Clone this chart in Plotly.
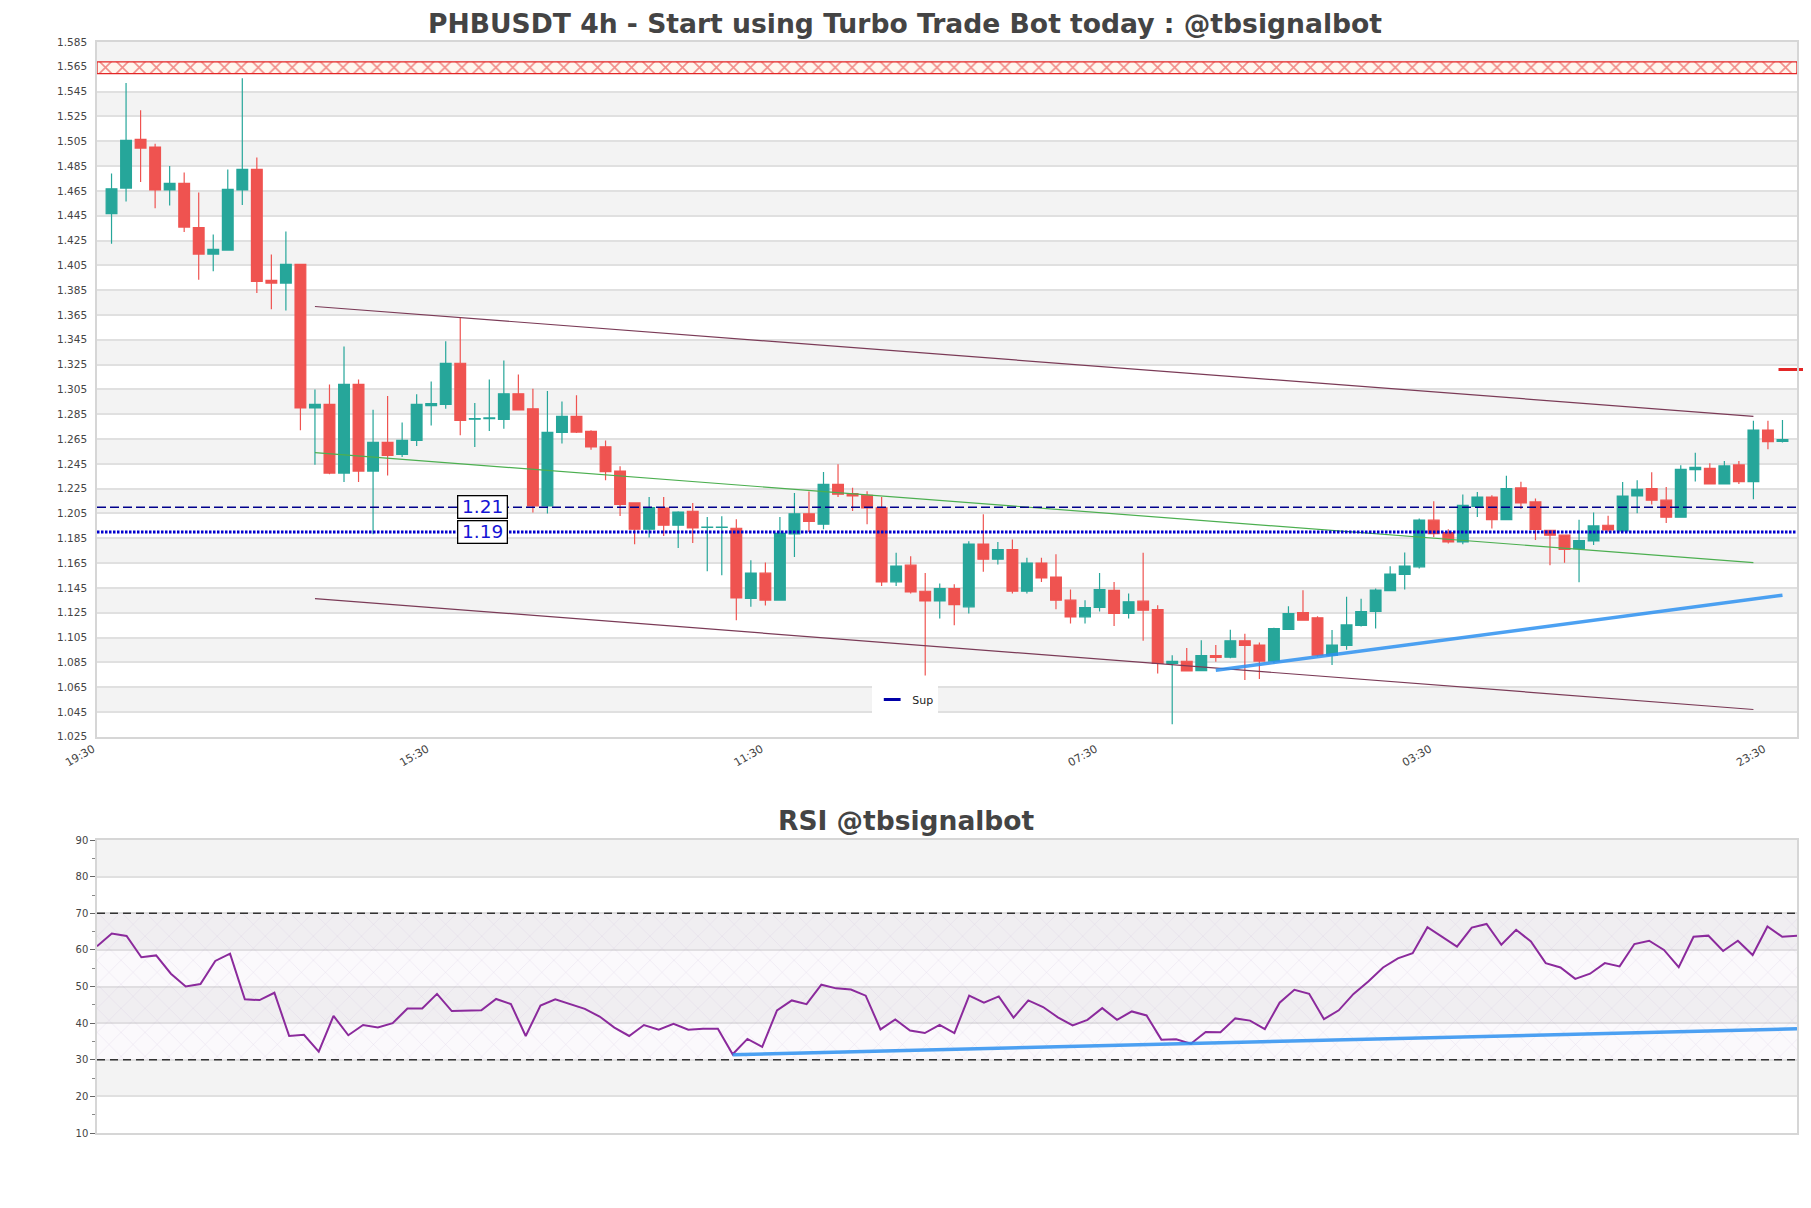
import pandas as pd
import plotly.graph_objects as go

# ---------------- data ----------------
START = pd.Timestamp("2024-05-06 19:30")
STEP = pd.Timedelta(hours=4)

opens = [1.4466, 1.4673, 1.5065, 1.5003, 1.4657, 1.4710, 1.4355, 1.4141, 1.4173, 1.4657,
         1.4823, 1.3928, 1.3907, 1.4057, 1.2900, 1.2930, 1.2376, 1.3090, 1.2392, 1.2623,
         1.2527, 1.2639, 1.2920, 1.2930, 1.3261, 1.2810, 1.2815, 1.2808, 1.3015, 1.2894,
         1.2111, 1.2704, 1.2833, 1.2712, 1.2588, 1.2392, 1.2135, 1.1923, 1.2094, 1.1955,
         1.2068, 1.1937, 1.1937, 1.1931, 1.1365, 1.1569, 1.1352, 1.1886, 1.2048, 1.1963,
         1.2285, 1.2210, 1.2197, 1.2095, 1.1499, 1.1633, 1.1423, 1.1345, 1.1445, 1.1298,
         1.1803, 1.1682, 1.1759, 1.1423, 1.1651, 1.1538, 1.1351, 1.1217, 1.1292, 1.1431,
         1.1244, 1.1343, 1.1276, 1.0841, 1.0859, 1.0784, 1.0905, 1.0892, 1.1024, 1.0989,
         1.0860, 1.1115, 1.1252, 1.1209, 1.0908, 1.0986, 1.1147, 1.1260, 1.1429, 1.1558,
         1.1620, 1.1996, 1.1896, 1.1821, 1.2108, 1.2183, 1.2001, 1.2256, 1.2143, 1.1915,
         1.1875, 1.1766, 1.1829, 1.1955, 1.1910, 1.2191, 1.2251, 1.2157, 1.2020, 1.2404,
         1.2414, 1.2288, 1.2441, 1.2307, 1.2723, 1.2631]
highs = [1.4791, 1.5519, 1.5299, 1.5030, 1.4850, 1.4799, 1.4638, 1.4299, 1.4823, 1.5557,
         1.4920, 1.4138, 1.4323, 1.4057, 1.3050, 1.3090, 1.3396, 1.3130, 1.2886, 1.2996,
         1.2784, 1.3010, 1.3114, 1.3439, 1.3632, 1.2940, 1.3130, 1.3283, 1.3170, 1.3055,
         1.3037, 1.2953, 1.3002, 1.2720, 1.2639, 1.2430, 1.2135, 1.2183, 1.2183, 1.2068,
         1.2135, 1.2022, 1.2027, 1.2003, 1.1673, 1.1654, 1.2022, 1.2216, 1.2227, 1.2384,
         1.2446, 1.2258, 1.2229, 1.2183, 1.1733, 1.1706, 1.1571, 1.1485, 1.1480, 1.1827,
         1.2044, 1.1821, 1.1840, 1.1694, 1.1694, 1.1721, 1.1437, 1.1351, 1.1571, 1.1498,
         1.1405, 1.1733, 1.1311, 1.0907, 1.0966, 1.1029, 1.0989, 1.1112, 1.1080, 1.1010,
         1.1128, 1.1303, 1.1432, 1.1222, 1.1110, 1.1378, 1.1362, 1.1445, 1.1625, 1.1735,
         1.2009, 1.2149, 1.1923, 1.2202, 1.2224, 1.2197, 1.2355, 1.2305, 1.2170, 1.1915,
         1.1875, 1.1999, 1.2057, 1.2031, 1.2304, 1.2318, 1.2383, 1.2264, 1.2438, 1.2540,
         1.2454, 1.2473, 1.2473, 1.2798, 1.2798, 1.2803]
lows = [1.4224, 1.4565, 1.4721, 1.4511, 1.4533, 1.4318, 1.3933, 1.4003, 1.4173, 1.4536,
        1.3826, 1.3697, 1.3686, 1.2720, 1.2443, 1.2366, 1.2304, 1.2304, 1.1882, 1.2357,
        1.2505, 1.2594, 1.2760, 1.2894, 1.2680, 1.2586, 1.2715, 1.2733, 1.2880, 1.2057,
        1.2049, 1.2613, 1.2698, 1.2564, 1.2317, 1.2030, 1.1802, 1.1856, 1.1869, 1.1772,
        1.1813, 1.1585, 1.1553, 1.1190, 1.1298, 1.1308, 1.1347, 1.1700, 1.1901, 1.1923,
        1.2183, 1.2070, 1.1963, 1.1466, 1.1466, 1.1405, 1.0745, 1.1203, 1.1150, 1.1244,
        1.1581, 1.1638, 1.1405, 1.1405, 1.1498, 1.1279, 1.1163, 1.1163, 1.1260, 1.1144,
        1.1203, 1.1024, 1.0761, 1.0351, 1.0781, 1.0780, 1.0854, 1.0884, 1.0708, 1.0716,
        1.0843, 1.1112, 1.1185, 1.0895, 1.0828, 1.0951, 1.1139, 1.1123, 1.1429, 1.1437,
        1.1607, 1.1861, 1.1808, 1.1802, 1.2022, 1.1929, 1.2001, 1.2087, 1.1836, 1.1633,
        1.1652, 1.1495, 1.1796, 1.1902, 1.1910, 1.2052, 1.2123, 1.1974, 1.2015, 1.2307,
        1.2285, 1.2283, 1.2288, 1.2165, 1.2567, 1.2623]
closes = [1.4667, 1.5057, 1.4995, 1.4657, 1.4710, 1.4358, 1.4141, 1.4178, 1.4662, 1.4823,
          1.3920, 1.3907, 1.4057, 1.2900, 1.2930, 1.2376, 1.3090, 1.2392, 1.2623, 1.2519,
          1.2639, 1.2929, 1.2935, 1.3261, 1.2800, 1.2815, 1.2820, 1.3015, 1.2884, 1.2111,
          1.2704, 1.2833, 1.2706, 1.2586, 1.2387, 1.2124, 1.1923, 1.2097, 1.1955, 1.2062,
          1.1933, 1.1941, 1.1941, 1.1370, 1.1569, 1.1352, 1.1889, 1.2048, 1.1986, 1.2285,
          1.2205, 1.2191, 1.2095, 1.1499, 1.1625, 1.1418, 1.1345, 1.1445, 1.1316, 1.1803,
          1.1682, 1.1759, 1.1423, 1.1651, 1.1530, 1.1351, 1.1217, 1.1292, 1.1437, 1.1244,
          1.1338, 1.1271, 1.0841, 1.0859, 1.0781, 1.0904, 1.0890, 1.1024, 1.0986, 1.0860,
          1.1123, 1.1244, 1.1190, 1.0908, 1.0989, 1.1152, 1.1260, 1.1432, 1.1561, 1.1625,
          1.1996, 1.1888, 1.1821, 1.2116, 1.2183, 1.2001, 1.2251, 1.2135, 1.1921, 1.1875,
          1.1760, 1.1832, 1.1950, 1.1918, 1.2191, 1.2245, 1.2157, 1.2020, 1.2406, 1.2422,
          1.2288, 1.2433, 1.2307, 1.2723, 1.2629, 1.2645]
rsi_values = [61.0, 64.5, 63.8, 58.0, 58.5, 53.5, 50.0, 50.7, 57.0, 59.0,
              46.5, 46.3, 48.3, 36.5, 36.8, 32.2, 42.0, 36.7, 39.5, 38.8,
              40.0, 44.0, 44.0, 48.0, 43.3, 43.5, 43.5, 46.6, 45.2, 36.5,
              44.8, 46.5, 45.2, 43.9, 41.8, 38.8, 36.5, 39.5, 38.2, 39.8,
              38.2, 38.5, 38.5, 31.5, 35.7, 33.5, 43.5, 46.2, 45.2, 50.5,
              49.5, 49.2, 47.5, 38.3, 41.0, 38.0, 37.3, 39.5, 37.3, 47.5,
              45.6, 47.3, 41.5, 46.2, 44.4, 41.6, 39.4, 40.9, 44.1, 40.9,
              43.2, 42.1, 35.5, 35.6, 34.4, 37.6, 37.5, 41.3, 40.7, 38.4,
              45.6, 49.1, 48.0, 41.1, 43.5, 48.0, 51.4, 55.2, 57.7, 59.1,
              66.2, 63.5, 60.9, 66.1, 67.1, 61.4, 65.5, 62.3, 56.4, 55.2,
              52.1, 53.5, 56.4, 55.5, 61.6, 62.5, 60.0, 55.3, 63.6, 63.9,
              59.7, 62.5, 58.6, 66.4, 63.6, 63.9]

price_ticks = [round(1.025 + 0.02 * i, 3) for i in range(29)]
rsi_ticks = [10, 20, 30, 40, 50, 60, 70, 80, 90]
tick_steps = [0, 23, 46, 69, 92, 115]

resistance_zone = [1.5595, 1.5690]
level_dashed = 1.21
level_dotted = 1.19
label_step = 26.5
channel_steps = [15, 114]
channel_upper = [1.3718, 1.2833]
channel_mid = [1.2540, 1.1654]
channel_lower = [1.1364, 1.0470]
support_steps = [77, 116]
support_vals = [1.0787, 1.1391]
rsi_trend_idx = [43, 115]
rsi_trend_vals = [31.4, 38.45]
rsi_zone = [30, 70]
target_price = 1.321
target_step = 116.98

# ---------------- derived ----------------
n = len(opens)
times = [START + STEP * (i + 1) for i in range(n)]
x0, x1 = START, START + STEP * (n + 1)
tick_times = [START + STEP * s for s in tick_steps]
def t(s):
    return START + STEP * s

GREEN = "#26a69a"
RED = "#ef5350"
FONT = "DejaVu Sans"

fig = go.Figure()

# resistance zone (hatched)
fig.add_trace(go.Scatter(
    x=[x0, x1, x1, x0, x0],
    y=[resistance_zone[0], resistance_zone[0], resistance_zone[1], resistance_zone[1], resistance_zone[0]],
    mode="lines", fill="toself", line=dict(color="#e32626", width=1.3),
    fillcolor="#fff6ee",
    fillpattern=dict(shape="x", fgcolor="#e32626", bgcolor="#fff6ee", size=12, solidity=0.25),
    showlegend=False, hoverinfo="skip", xaxis="x", yaxis="y"))

# channel lines
for vals, col in [(channel_upper, "#7b3b57"), (channel_lower, "#7b3b57"), (channel_mid, "#4caf50")]:
    fig.add_trace(go.Scatter(x=[t(s) for s in channel_steps], y=vals, mode="lines",
                             line=dict(color=col, width=1.2), showlegend=False,
                             hoverinfo="skip", xaxis="x", yaxis="y"))

# horizontal levels
fig.add_trace(go.Scatter(x=[x0, x1], y=[level_dashed, level_dashed], mode="lines",
                         line=dict(color="#00008b", width=1.5, dash="9px,4px"),
                         showlegend=False, hoverinfo="skip", xaxis="x", yaxis="y"))
fig.add_trace(go.Scatter(x=[x0, x1], y=[level_dotted, level_dotted], mode="lines",
                         line=dict(color="#0000cd", width=3, dash="2.5px,1.5px"),
                         showlegend=False, hoverinfo="skip", xaxis="x", yaxis="y"))

# candles
fig.add_trace(go.Candlestick(
    x=times, open=opens, high=highs, low=lows, close=closes,
    increasing=dict(line=dict(color=GREEN, width=1.2), fillcolor=GREEN),
    decreasing=dict(line=dict(color=RED, width=1.2), fillcolor=RED),
    whiskerwidth=0, showlegend=False, xaxis="x", yaxis="y"))

# support trendline
fig.add_trace(go.Scatter(x=[t(s) for s in support_steps], y=support_vals, mode="lines",
                         line=dict(color="rgba(45,145,240,0.85)", width=3.5),
                         showlegend=False, hoverinfo="skip", xaxis="x", yaxis="y"))

# target marker
fig.add_trace(go.Scatter(x=[t(target_step)], y=[target_price], mode="markers",
                         marker=dict(symbol="line-ew", size=26, color="#e32626",
                                     line=dict(color="#e32626", width=3)),
                         cliponaxis=False, showlegend=False, hoverinfo="skip",
                         xaxis="x", yaxis="y"))

# legend entry
fig.add_trace(go.Scatter(x=[None], y=[None], mode="markers", name="Sup",
                         marker=dict(symbol="line-ew", size=12, color="#0000a8",
                                     line=dict(color="#0000a8", width=3)),
                         showlegend=True, xaxis="x", yaxis="y"))

# ---------------- RSI ----------------
rx0, rx1 = times[0], times[-1]
fig.add_trace(go.Scatter(
    x=[rx0, rx1, rx1, rx0, rx0],
    y=[rsi_zone[0], rsi_zone[0], rsi_zone[1], rsi_zone[1], rsi_zone[0]],
    mode="lines", fill="toself", line=dict(width=0),
    fillcolor="rgba(225,205,235,0.12)",
    fillpattern=dict(shape="x", fgcolor="rgba(165,140,190,0.55)", size=17, solidity=0.05,
                     fillmode="overlay"),
    showlegend=False, hoverinfo="skip", xaxis="x2", yaxis="y2"))
for lvl in rsi_zone:
    fig.add_trace(go.Scatter(x=[rx0, rx1], y=[lvl, lvl], mode="lines",
                             line=dict(color="#333333", width=1.4, dash="8px,5px"),
                             showlegend=False, hoverinfo="skip", xaxis="x2", yaxis="y2"))
fig.add_trace(go.Scatter(x=times, y=rsi_values, mode="lines",
                         line=dict(color="#8b2a9c", width=2),
                         showlegend=False, hoverinfo="skip", xaxis="x2", yaxis="y2"))
fig.add_trace(go.Scatter(x=[times[i] for i in rsi_trend_idx], y=rsi_trend_vals, mode="lines",
                         line=dict(color="rgba(45,145,240,0.85)", width=3.5),
                         showlegend=False, hoverinfo="skip", xaxis="x2", yaxis="y2"))

# ---------------- bands ----------------
shapes = []
for i in range(1, len(price_ticks) - 1, 2):
    shapes.append(dict(type="rect", xref="x domain", yref="y", x0=0, x1=1,
                       y0=price_ticks[i], y1=price_ticks[i + 1],
                       fillcolor="#f3f3f3", line=dict(width=0), layer="below"))
for i in range(1, len(rsi_ticks) - 1, 2):
    shapes.append(dict(type="rect", xref="x2 domain", yref="y2", x0=0, x1=1,
                       y0=rsi_ticks[i], y1=rsi_ticks[i + 1],
                       fillcolor="#f3f3f3", line=dict(width=0), layer="below"))

# page body has an 8px margin: figure is sized/offset so the plot lands where the reference has it
W, H = 1803, 1200
PLOT_L, PLOT_R, PLOT_T, PLOT_B = 89, 14, 33.7, 75
plot_h = H - PLOT_T - PLOT_B

annotations = []
for lvl in [level_dashed, level_dotted]:
    annotations.append(dict(x=t(label_step), y=lvl, xref="x", yref="y",
                            text="\u2009" + f"{lvl:.2f}" + "\u2009",
                            showarrow=False, font=dict(family=FONT, size=18.5, color="#1515d5"),
                            bgcolor="white", bordercolor="black", borderwidth=1.3, borderpad=0))
annotations.append(dict(x=0.476, y=(plot_h - (812 - PLOT_T)) / plot_h, xref="paper", yref="paper",
                        text="<b>RSI @tbsignalbot</b>",
                        showarrow=False, xanchor="center", yanchor="middle",
                        font=dict(family=FONT, size=26.5, color="#444444")))

axis_line = "#d6d6d6"
fig.update_layout(
    width=W, height=H,
    margin=dict(l=PLOT_L, r=PLOT_R, t=PLOT_T, b=PLOT_B),
    paper_bgcolor="white", plot_bgcolor="white",
    font=dict(family=FONT, color="#444444"),
    title=dict(text="<b>PHBUSDT 4h - Start using Turbo Trade Bot today : @tbsignalbot</b>",
               x=(905 - 8) / W, xref="container", xanchor="center",
               y=1 - 16 / H, yref="container", yanchor="middle",
               font=dict(family=FONT, size=26.6, color="#444444")),
    boxgap=0.26, boxgroupgap=0,
    shapes=shapes, annotations=annotations,
    showlegend=True,
    legend=dict(x=0.456, y=(plot_h - (677 - PLOT_T)) / plot_h, xanchor="left", yanchor="top",
                bgcolor="white",
                font=dict(family=FONT, size=11, color="#222222"), itemwidth=30,
                borderwidth=0),
    xaxis=dict(type="date", range=[x0, x1], anchor="y", domain=[0, 1],
               tickvals=tick_times, tickformat="%H:%M", tickangle=-30,
               tickfont=dict(size=11, color="#444444"), showgrid=False,
               ticklabelshift=-4,
               showline=True, linecolor=axis_line, linewidth=1.5, mirror=True,
               rangeslider=dict(visible=False), zeroline=False),
    yaxis=dict(domain=[(plot_h - (728.7 - PLOT_T)) / plot_h, 1.0],
               range=[price_ticks[0], price_ticks[-1]], anchor="x",
               tickvals=price_ticks, tickformat=".3f", tickfont=dict(size=10.5, color="#444444"),
               showgrid=True, gridcolor="#e0e0e0", gridwidth=1.5, ticks="", ticklabelstandoff=6,
               showline=True, linecolor=axis_line, linewidth=1.5, mirror=True, zeroline=False),
    xaxis2=dict(type="date", range=[rx0, rx1], anchor="y2", domain=[0, 1],
                showticklabels=False, showgrid=False, ticks="",
                showline=True, linecolor=axis_line, linewidth=1.5, mirror=True, zeroline=False),
    yaxis2=dict(domain=[0, (plot_h - (832 - PLOT_T)) / plot_h],
                range=[rsi_ticks[0], rsi_ticks[-1]], anchor="x2",
                tickvals=rsi_ticks, tickfont=dict(size=10, color="#444444"),
                showgrid=True, gridcolor="#e0e0e0", gridwidth=1.5,
                ticks="outside", ticklen=5, tickcolor="#666666",
                minor=dict(dtick=5, ticks="outside", ticklen=3, tickcolor="#888888", showgrid=False),
                showline=True, linecolor=axis_line, linewidth=1.5, mirror=True, zeroline=False),
)

fig.write_html("out.html")
